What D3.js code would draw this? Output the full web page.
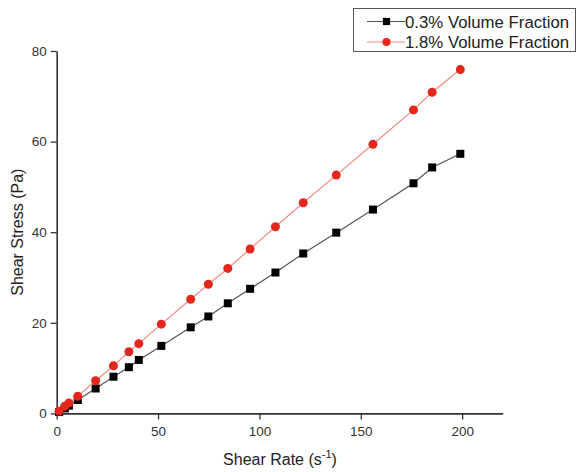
<!DOCTYPE html>
<html>
<head>
<meta charset="utf-8">
<script src="https://cdn.jsdelivr.net/npm/d3@7"></script>
<style>
  html, body { margin: 0; padding: 0; background: #fff; }
  svg { display: block; font-family: "Liberation Sans", Arial, sans-serif; }
</style>
</head>
<body>
<svg id="chart" width="577" height="472"></svg>
<script>
// Shear rate (s^-1) at each measurement
const shearRate = [1.2, 4, 6, 10.4, 19.2, 28, 35.6, 40.5, 51.6, 66.1, 74.8, 84.4, 95.4, 107.9, 121.6, 137.9, 156, 176, 185.2, 199.1];
// Shear stress (Pa) for each suspension
const stress03 = [0.3, 1.1, 1.7, 2.96, 5.5, 8.1, 10.2, 11.8, 14.9, 19.0, 21.4, 24.3, 27.5, 31.1, 35.3, 39.9, 45.0, 50.8, 54.3, 57.3];
const stress18 = [0.5, 1.6, 2.3, 3.8, 7.2, 10.5, 13.6, 15.4, 19.7, 25.2, 28.5, 32.0, 36.3, 41.2, 46.5, 52.6, 59.4, 67.0, 70.9, 75.9];
const seriesNames = ["0.3% Volume Fraction", "1.8% Volume Fraction"];
const xTicks = [0, 50, 100, 150, 200];
const yTicks = [0, 20, 40, 60, 80];

const svg = d3.select("#chart");
const x = d3.scaleLinear().domain([0, 220]).range([56.7, 502.7]);
const y = d3.scaleLinear().domain([0, 80]).range([413.4, 51]);

const axisColor = "#333";
const styles = [
  { line: "#555", fill: "#000", shape: "square" },
  { line: "#f28a86", fill: "#e5261e", shape: "circle" }
];

// Axes
const xAxis = svg.append("g").attr("transform", `translate(0,${y(0)})`)
  .call(d3.axisBottom(x).tickValues(xTicks).tickSize(6).tickPadding(7).tickSizeOuter(0));
const yAxis = svg.append("g").attr("transform", `translate(${x(0)},0)`)
  .call(d3.axisLeft(y).tickValues(yTicks).tickSize(6).tickPadding(4).tickSizeOuter(0));
[xAxis, yAxis].forEach(g => {
  g.select(".domain").attr("stroke", axisColor).attr("stroke-width", 1.6);
  g.selectAll(".tick line").attr("stroke", axisColor).attr("stroke-width", 1.3);
  g.selectAll(".tick text").attr("fill", "#333").attr("font-size", 13.5)
    .attr("font-family", "\"Liberation Sans\", Arial, sans-serif");
});

// Axis titles
const xt = svg.append("text").attr("x", 280).attr("y", 465)
  .attr("text-anchor", "middle").attr("font-size", 16).attr("fill", "#222");
xt.append("tspan").text("Shear Rate (s");
xt.append("tspan").attr("dy", -7).attr("font-size", 11).text("-1");
xt.append("tspan").attr("dy", 7).text(")");

svg.append("text")
  .attr("transform", `translate(23,${(y(0) + y(80)) / 2}) rotate(-90)`)
  .attr("text-anchor", "middle").attr("font-size", 16).attr("fill", "#222")
  .text("Shear Stress (Pa)");

// Series lines and markers
const seriesData = [stress03, stress18].map(vals => shearRate.map((r, i) => [r, vals[i]]));
const line = d3.line().x(d => x(d[0])).y(d => y(d[1]));

function drawMarker(g, cx, cy, st, s = 1) {
  if (st.shape === "square") {
    g.append("rect").attr("x", cx - 4 * s).attr("y", cy - 4 * s)
      .attr("width", 8 * s).attr("height", 8 * s).attr("fill", st.fill);
  } else {
    g.append("circle").attr("cx", cx).attr("cy", cy).attr("r", 4.5 * s).attr("fill", st.fill);
  }
}

seriesData.forEach((data, k) => {
  const st = styles[k];
  const g = svg.append("g");
  g.append("path").datum(data).attr("d", line).attr("fill", "none")
    .attr("stroke", st.line).attr("stroke-width", 1.2);
  data.forEach(d => drawMarker(g, x(d[0]), y(d[1]), st));
});

// Legend
const legend = svg.append("g");
legend.append("rect").attr("x", 353.5).attr("y", 8.5).attr("width", 222).attr("height", 43)
  .attr("fill", "#fff").attr("stroke", "#555").attr("stroke-width", 1);
seriesNames.forEach((name, k) => {
  const st = styles[k];
  const cy = 21.5 + k * 20.5;
  legend.append("line").attr("x1", 367).attr("x2", 405).attr("y1", cy).attr("y2", cy)
    .attr("stroke", st.line).attr("stroke-width", 1.2);
  drawMarker(legend, 386.5, cy, st, 0.9);
  legend.append("text").attr("x", 405).attr("y", cy + 6).attr("font-size", 16.8)
    .attr("fill", "#222").text(name);
});
</script>
</body>
</html>
